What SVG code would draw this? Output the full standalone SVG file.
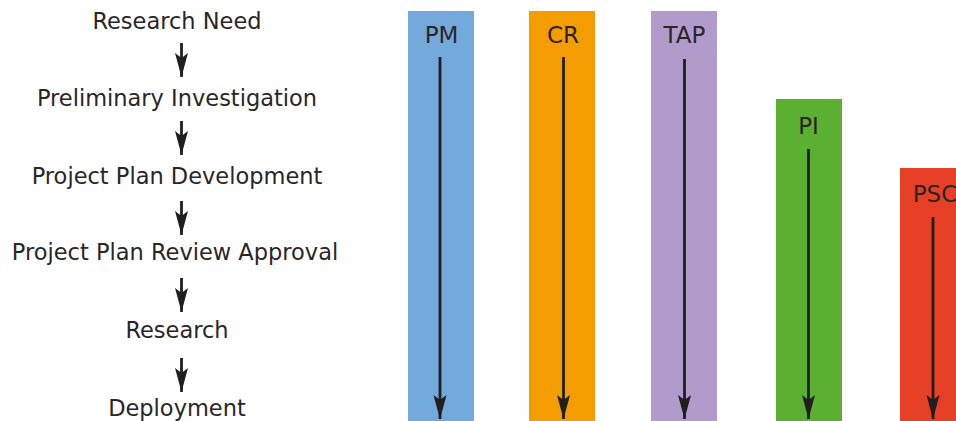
<svg xmlns="http://www.w3.org/2000/svg" width="956" height="421" viewBox="0 0 956 421">
<style>
  text { font-family: "DejaVu Sans", "Liberation Sans", sans-serif; font-size: 22.5px; fill: #2a2627; text-anchor: middle; }
  .lbl { font-size: 23px; }
  .arr { stroke: #1f1f1f; stroke-width: 2.8; fill: none; marker-end: url(#head); }
</style>
<defs>
  <marker id="head" markerUnits="userSpaceOnUse" markerWidth="14" markerHeight="26" viewBox="-7 -25 14 26" refX="0" refY="0" orient="auto-start-reverse" overflow="visible">
    <path d="M0,0 L-6.5,-24 L0,-19 L6.5,-24 Z" fill="#1f1f1f" transform="rotate(-90)"/>
  </marker>
</defs>
<rect width="956" height="421" fill="#ffffff"/>

<g id="step-research-need"><text x="177" y="29">Research Need</text></g>
<g id="step-preliminary-investigation"><text x="177" y="106">Preliminary Investigation</text></g>
<g id="step-project-plan-development"><text x="177" y="184">Project Plan Development</text></g>
<g id="step-project-plan-review-approval"><text x="175" y="260">Project Plan Review Approval</text></g>
<g id="step-research"><text x="177" y="338">Research</text></g>
<g id="step-deployment"><text x="177" y="416">Deployment</text></g>

<g id="bar-pm"><rect x="408" y="11" width="66" height="410" fill="#74aadb"/><text class="lbl" x="441.5" y="43">PM</text></g>
<g id="bar-cr"><rect x="529" y="11" width="66" height="410" fill="#f49c00"/><text class="lbl" x="563" y="43">CR</text></g>
<g id="bar-tap"><rect x="651" y="11" width="66" height="410" fill="#b19bca"/><text class="lbl" x="684.5" y="43">TAP</text></g>
<g id="bar-pi"><rect x="776" y="99" width="66" height="322" fill="#5bb032"/><text class="lbl" x="808.5" y="134">PI</text></g>
<g id="bar-psc"><rect x="900" y="168" width="66" height="253" fill="#e54026"/><text class="lbl" x="935" y="202">PSC</text></g>

<g id="connectors">
  <line class="arr" x1="181.5" y1="43" x2="181.5" y2="77"/>
  <line class="arr" x1="181.5" y1="121" x2="181.5" y2="155"/>
  <line class="arr" x1="181.5" y1="201" x2="181.5" y2="235"/>
  <line class="arr" x1="181.5" y1="278" x2="181.5" y2="312"/>
  <line class="arr" x1="181.5" y1="358" x2="181.5" y2="392"/>
  <line class="arr" x1="440" y1="57" x2="440" y2="419"/>
  <line class="arr" x1="563.5" y1="57" x2="563.5" y2="419"/>
  <line class="arr" x1="684.5" y1="59" x2="684.5" y2="419"/>
  <line class="arr" x1="808.5" y1="149" x2="808.5" y2="419"/>
  <line class="arr" x1="933" y1="217" x2="933" y2="419"/>
</g>
</svg>
